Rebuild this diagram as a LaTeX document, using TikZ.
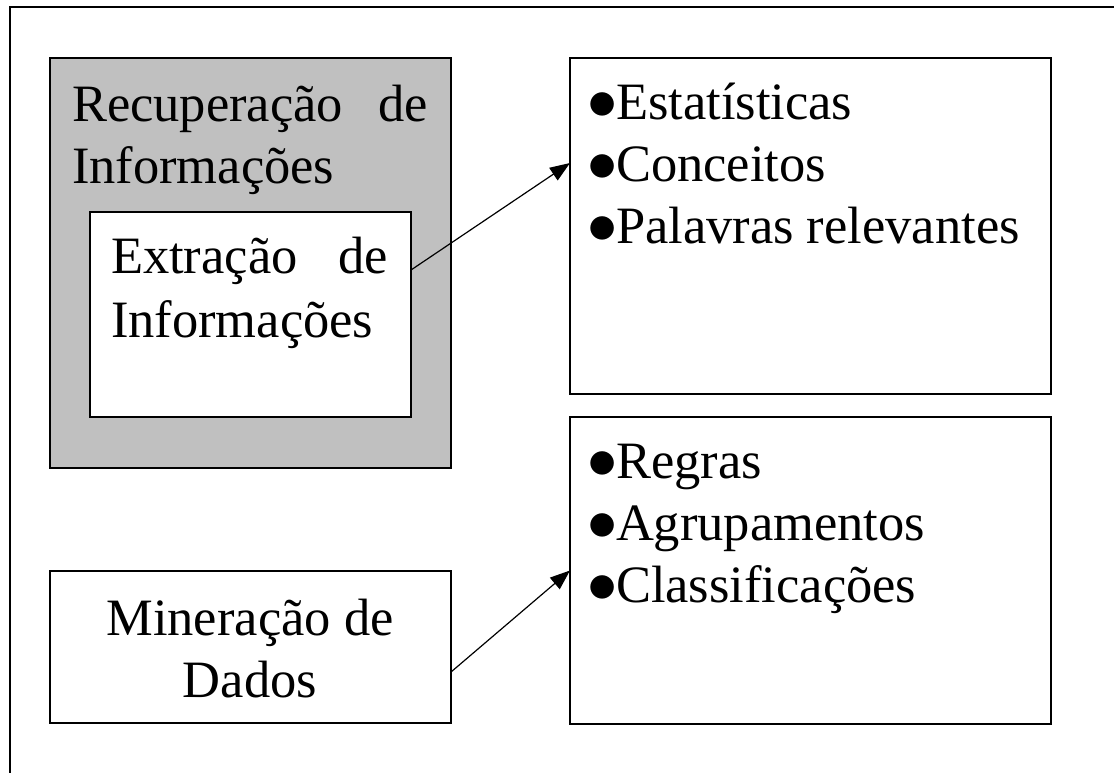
\RequirePackage{fix-cm}
\documentclass[tikz,border=0pt]{standalone}
\usepackage{fontspec}
\setmainfont{Liberation Serif}
\usetikzlibrary{arrows.meta}
\definecolor{boxgrey}{HTML}{C0C0C0}
\newcommand{\bigbul}{\makebox[29pt][l]{\scalebox{1.15}{$\bullet$}}}
\begin{document}
\begin{tikzpicture}[x=1pt,y=-1pt,
  box/.style={draw=black,line width=1.5pt,inner sep=0pt,outer sep=0pt,anchor=north west},
  txt/.style={inner sep=0pt,outer sep=0pt,anchor=base west,font=\fontsize{52.5}{61.5}\selectfont},
  ctxt/.style={txt,anchor=base},
  conn/.style={line width=1.2pt,-{Triangle[length=20pt,width=15pt]}}]
\useasboundingbox (0,0) rectangle (1114,773);
% outer frame (only top and left edges visible)
\draw[line width=1.5pt] (10,773) -- (10,7) -- (1114,7);
% boxes
\node[box,fill=boxgrey,minimum width=401pt,minimum height=410pt] (ri) at (50,58) {};
\node[box,fill=white,minimum width=321pt,minimum height=205pt] (ie) at (90,212) {};
\node[box,fill=white,minimum width=401pt,minimum height=152pt] (md) at (50,571) {};
\node[box,fill=white,minimum width=481pt,minimum height=336pt] (st) at (570,58) {};
\node[box,fill=white,minimum width=481pt,minimum height=307pt] (dm) at (570,417) {};
% texts
\node[txt] (t1) at (72,122) {\makebox[356pt][s]{Recuperação de}};
\node[txt] (t2) at (72,183) {Informações};
\node[txt] (t3) at (111,273) {\makebox[277pt][s]{Extração de}};
\node[txt] (t4) at (111,337) {Informações};
\node[ctxt] (t5) at (250,635) {Mineração de};
\node[ctxt] (t6) at (250,697) {Dados};
\node[txt] (b1) at (587,120) {\bigbul Estatísticas};
\node[txt] (b2) at (587,182) {\bigbul Conceitos};
\node[txt] (b3) at (587,243) {\bigbul Palavras relevantes};
\node[txt] (b4) at (587,478) {\bigbul Regras};
\node[txt] (b5) at (587,540) {\bigbul Agrupamentos};
\node[txt] (b6) at (587,602) {\bigbul Classificações};
% connectors
\draw[conn] ([yshift=44.5pt]ie.east) -- ([yshift=63pt]st.west);
\draw[conn] ([yshift=-25pt]md.east) -- (dm.west);
\end{tikzpicture}
\end{document}
